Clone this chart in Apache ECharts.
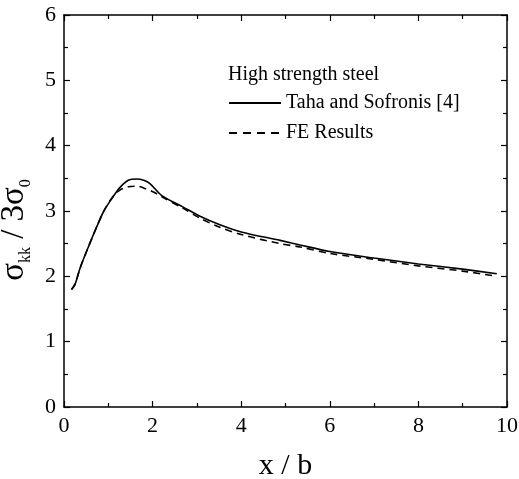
<!DOCTYPE html>
<html>
<head>
<meta charset="utf-8">
<script src="https://cdn.jsdelivr.net/npm/echarts@6/dist/echarts.min.js"></script>
<style>
  html, body { margin: 0; padding: 0; background: #fff; }
  #chart { width: 519px; height: 479px; }
</style>
</head>
<body>
<div id="chart"></div>
<script>
// Normalised hydrostatic stress ahead of the notch, sigma_kk / 3 sigma_0 versus x / b
const seriesNames = ['Taha and Sofronis [4]', 'FE Results'];

const tahaX = [0.17, 0.25, 0.36, 0.55, 0.74, 0.90, 1.08, 1.25, 1.45, 1.64, 1.80, 1.94, 2.20, 2.69, 3.07, 3.52, 4.00, 4.88, 5.33, 6.00, 7.00, 8.00, 9.00, 9.77];
const tahaY = [1.80, 1.88, 2.12, 2.45, 2.76, 3.00, 3.19, 3.35, 3.47, 3.49, 3.47, 3.42, 3.24, 3.06, 2.92, 2.79, 2.68, 2.55, 2.48, 2.38, 2.28, 2.19, 2.11, 2.04];

const feX = [0.17, 0.25, 0.36, 0.55, 0.74, 0.90, 1.08, 1.26, 1.45, 1.64, 1.85, 2.02, 2.20, 2.69, 3.07, 3.52, 4.00, 4.88, 5.33, 6.00, 7.00, 8.00, 9.00, 9.77];
const feY = [1.80, 1.88, 2.12, 2.45, 2.76, 3.00, 3.20, 3.32, 3.37, 3.38, 3.34, 3.29, 3.22, 3.04, 2.89, 2.75, 2.64, 2.50, 2.45, 2.35, 2.26, 2.16, 2.08, 2.00];

const legendTitle = 'High strength steel';

const FONT = '"Liberation Serif", "DejaVu Serif", serif';

function pairs(xs, ys) {
  return xs.map((x, i) => [x, ys[i]]);
}

const axisLine = { show: true, onZero: false, lineStyle: { color: '#000', width: 1.5 } };
const tickIn = { show: true, inside: true, length: 6, lineStyle: { color: '#000', width: 1.2 } };
const minorIn = { show: true, splitNumber: 2, length: 4, lineStyle: { color: '#000', width: 1.2 } };

const chart = echarts.init(document.getElementById('chart'), null, { renderer: 'canvas' });

chart.setOption({
  backgroundColor: '#fff',
  animation: false,
  textStyle: { fontFamily: FONT },
  title: {
    text: legendTitle,
    left: 228,
    top: 65,
    padding: 0,
    textStyle: { fontFamily: FONT, fontSize: 20, fontWeight: 'normal', color: '#000' }
  },
  legend: {
    orient: 'vertical',
    left: 228,
    top: 93,
    padding: 0,
    itemWidth: 52,
    itemHeight: 14,
    itemGap: 10,
    itemStyle: { color: 'transparent', borderColor: 'transparent', borderWidth: 0, opacity: 0 },
    textStyle: { fontFamily: FONT, fontSize: 20, color: '#000', lineHeight: 20 },
    data: [
      { name: seriesNames[0] },
      { name: seriesNames[1], lineStyle: { type: [8, 6] } }
    ]
  },
  grid: { left: 64, right: 12, top: 15, bottom: 72, containLabel: false, outerBoundsMode: 'none' },
  xAxis: [
    {
      type: 'value', min: 0, max: 10, interval: 2,
      axisLine: axisLine, axisTick: tickIn,
      minorTick: minorIn, splitLine: { show: false },
      axisLabel: { color: '#000', fontSize: 22, fontFamily: FONT, margin: 8 },
      name: 'x / b', nameLocation: 'middle', nameGap: 44,
      nameTextStyle: { color: '#000', fontSize: 30, fontFamily: FONT }
    },
    {
      type: 'value', position: 'top', min: 0, max: 10, interval: 2,
      axisLine: axisLine, axisTick: tickIn,
      minorTick: minorIn, splitLine: { show: false },
      axisLabel: { show: false }
    }
  ],
  yAxis: [
    {
      type: 'value', min: 0, max: 6, interval: 1,
      axisLine: axisLine, axisTick: tickIn,
      minorTick: minorIn, splitLine: { show: false },
      axisLabel: { color: '#000', fontSize: 22, fontFamily: FONT, margin: 8 },
      name: '{s|σ}{sub|kk}{s| / 3σ}{sub|0}',
      nameLocation: 'middle', nameRotate: 90, nameGap: 23,
      nameTextStyle: {
        color: '#000', fontFamily: FONT,
        padding: [0, 38, 0, 0],
        rich: {
          s: { fontSize: 33, fontFamily: FONT, color: '#000', lineHeight: 36, verticalAlign: 'top' },
          sub: { fontSize: 16, fontFamily: FONT, color: '#000', lineHeight: 16, verticalAlign: 'bottom' }
        }
      }
    },
    {
      type: 'value', position: 'right', min: 0, max: 6, interval: 1,
      axisLine: axisLine, axisTick: tickIn,
      minorTick: minorIn, splitLine: { show: false },
      axisLabel: { show: false }
    }
  ],
  series: [
    {
      name: seriesNames[0], type: 'line', xAxisIndex: 0, yAxisIndex: 0,
      data: pairs(tahaX, tahaY), smooth: 0.3, symbol: 'none',
      lineStyle: { color: '#000', width: 1.6, type: 'solid' },
      itemStyle: { color: '#000' }
    },
    {
      name: seriesNames[1], type: 'line', xAxisIndex: 0, yAxisIndex: 0,
      data: pairs(feX, feY), smooth: 0.3, symbol: 'none',
      lineStyle: { color: '#000', width: 1.6, type: [7, 5] },
      itemStyle: { color: '#000' }
    }
  ]
});
</script>
</body>
</html>
